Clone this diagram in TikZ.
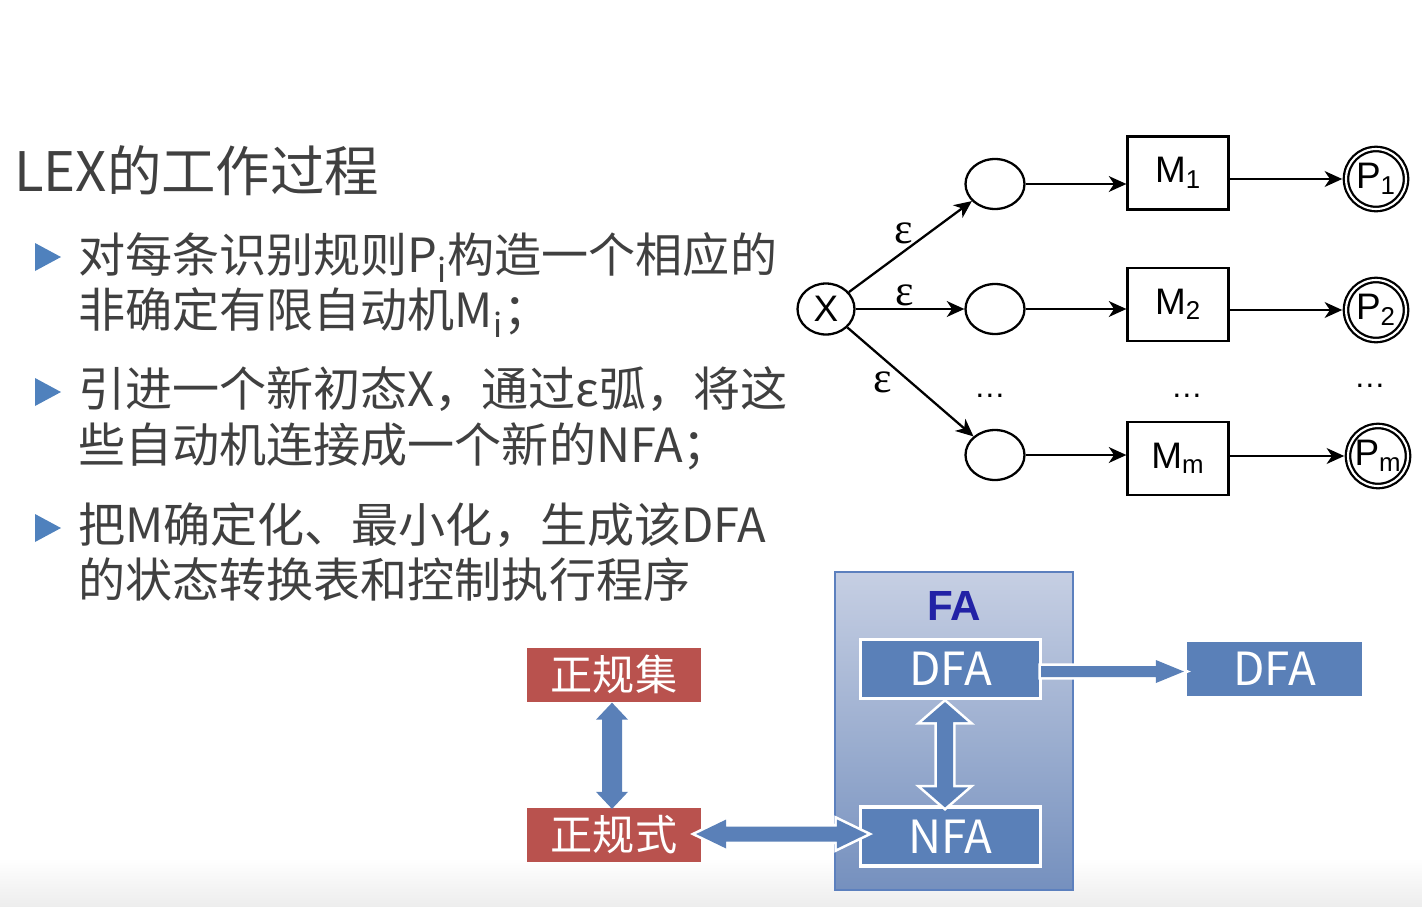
\documentclass[tikz,border=0pt]{standalone}
\usepackage{fontspec}
\setmainfont{Noto Sans CJK SC}
\newfontfamily\arialfont{Liberation Sans}
\newfontfamily\timesfont{Liberation Serif}
\usetikzlibrary{arrows.meta,shapes.geometric,positioning,calc}
\definecolor{textgray}{HTML}{404040}
\definecolor{bulletblue}{HTML}{4F81BD}
\definecolor{boxblue}{HTML}{5A80B8}
\definecolor{boxred}{HTML}{B9524E}
\definecolor{fatop}{HTML}{C6CFE3}
\definecolor{fabot}{HTML}{7590BE}
\definecolor{faborder}{HTML}{5C80BE}
\definecolor{fatext}{HTML}{2222A6}
\tikzset{titletext/.style={anchor=base west, inner sep=0pt, text=textgray, font=\fontsize{31}{36}\selectfont}}
\tikzset{linetext/.style={anchor=base west, inner sep=0pt, text=textgray, font=\fontsize{26.8}{31}\selectfont}}
\tikzset{blockshape/.style={fill=boxblue, preaction={draw=white, line width=3pt, line join=miter}}}

\begin{document}
\begin{tikzpicture}[x=0.02cm,y=-0.02cm,>={Stealth[length=10pt,width=9pt,inset=3pt]},line width=1.3pt]
\tikzstyle{startstate} = [draw, ellipse, minimum width=1.14cm, minimum height=1.02cm, inner sep=0pt, font=\arialfont\fontsize{21}{24}\selectfont]
\tikzstyle{emptystate} = [draw, ellipse, minimum width=1.18cm, minimum height=1cm, inner sep=0pt]
\tikzstyle{finalstate} = [draw, circle, double, double distance=1.2pt, minimum size=1.2cm, inner sep=0pt, font=\arialfont\fontsize{21}{24}\selectfont]
\tikzstyle{machine} = [draw, rectangle, minimum width=2.02cm, minimum height=1.46cm, inner sep=0pt, font=\arialfont\fontsize{21}{24}\selectfont]
\tikzstyle{eps} = [inner sep=1pt, font=\timesfont\fontsize{25}{28}\selectfont]
\tikzstyle{dots} = [inner sep=0pt, font=\arialfont\fontsize{18}{20}\selectfont]
\tikzstyle{innerbox} = [rectangle, fill=boxblue, draw=white, line width=1.8pt, minimum width=3.6cm, minimum height=1.18cm, text=white, font=\fontsize{26}{30}\selectfont]
\tikzstyle{bluebox} = [rectangle, fill=boxblue, minimum width=3.5cm, minimum height=1.08cm, text=white, font=\fontsize{26}{30}\selectfont]
\tikzstyle{redbox} = [rectangle, fill=boxred, minimum width=3.48cm, minimum height=1.08cm, text=white, font=\fontsize{24}{28}\selectfont]

\useasboundingbox (0,0) rectangle (1422,906);
\shade[top color=white, bottom color=black!7] (0,858) rectangle (1422,906);

% title and bullets
\node[titletext] (title) at (13,191) {LEX的工作过程};
\foreach \y in {257,392,528}
  \fill[bulletblue] (35,\y-14) -- (61,\y) -- (35,\y+14) -- cycle;

\node[linetext] (b1a) at (77,272) {对每条识别规则P\textsubscript{i}构造一个相应的};
\node[linetext] (b1b) at (77,327) {非确定有限自动机M\textsubscript{i}；};
\node[linetext] (b2a) at (77,406) {引进一个新初态X，通过ε弧，将这};
\node[linetext] (b2b) at (77,462) {些自动机连接成一个新的NFA；};
\node[linetext] (b3a) at (77,542) {把M确定化、最小化，生成该DFA};
\node[linetext] (b3b) at (77,597) {的状态转换表和控制执行程序};

% automaton
\node[startstate] (X)  at (826,309) {X};
\node[emptystate] (s1) at (995,184) {};
\node[emptystate] (s2) at (995,309) {};
\node[emptystate] (sm) at (995,455) {};
\node[machine] (M1) at (1178,173) {M\textsubscript{1}};
\node[machine] (M2) at (1178,304.5) {M\textsubscript{2}};
\node[machine] (Mm) at (1178,458.5) {M\textsubscript{m}};
\node[finalstate] (P1) at (1376,179) {P\textsubscript{1}};
\node[finalstate] (P2) at (1376,310) {P\textsubscript{2}};
\node[finalstate] (Pm) at (1378,456) {P\textsubscript{m}};

\draw[->] (X) -- node[eps, above left, pos=0.5, xshift=3pt] {ε} (s1);
\draw[->] (X) -- node[eps, above, pos=0.45] {ε} (s2);
\draw[->] (X) -- node[eps, left, pos=0.5, xshift=-9pt] {ε} (sm);

\draw[->] (s1.east) -- (s1.east -| M1.west);
\draw[->] (s2.east) -- (s2.east -| M2.west);
\draw[->] (sm.east) -- (sm.east -| Mm.west);
\draw[->, shorten >=1.5pt] (M1.east |- P1.west) -- (P1.west);
\draw[->, shorten >=1.5pt] (M2.east |- P2.west) -- (P2.west);
\draw[->, shorten >=1.5pt] (Mm.east |- Pm.west) -- (Pm.west);

\node[dots] (d1) at (990,396) {…};
\node[dots] (d2) at (1187,396) {…};
\node[dots] (d3) at (1370,386) {…};

% FA block
\node[rectangle, top color=fatop, bottom color=fabot, draw=faborder, line width=1.1pt,
      minimum width=4.76cm, minimum height=6.36cm] (FA) at (954,731) {};
\node[font=\arialfont\bfseries\fontsize{24}{28}\selectfont, text=fatext] (falabel) at (954,606) {FA};
\node[innerbox] (dfa)  at (950.5,669) {DFA};
\node[innerbox] (nfa)  at (950.5,836.5) {NFA};
\node[bluebox]  (dfa2) at (1274.5,669) {DFA};
\node[redbox]   (zgj)  at (614,674.5) {正规集};
\node[redbox]   (zgs)  at (614,835) {正规式};

% block arrows
\coordinate (jtip) at ($(zgj.south)+(-2,0)$);
\coordinate (stip) at ($(zgs.north)+(-2,2)$);
\fill[boxblue] (jtip) -- ++(16,17) -- ++(-6,0) -- ($(stip)+(10,-17)$) -- ++(6,0) -- (stip)
  -- ++(-16,-17) -- ++(6,0) -- ($(jtip)+(-10,17)$) -- ++(-6,0) -- cycle;

\coordinate (ltip) at ($(zgs.east)+(-6,-1)$);
\coordinate (rtip) at ($(zgs.east -| nfa.west)+(8,-1)$);
\path[blockshape] (ltip) -- ++(30,-14.5) -- ++(0,7) -- ($(rtip)+(-30,-7.5)$) -- ++(0,-7) -- (rtip)
  -- ++(-30,14.5) -- ++(0,-7) -- ($(ltip)+(30,7.5)$) -- ++(0,7) -- cycle;

\coordinate (dtip) at ($(dfa.south)+(-5.5,2)$);
\coordinate (ntip) at ($(nfa.north)+(-5.5,2)$);
\path[blockshape] (dtip) -- ++(23,20) -- ++(-15,0) -- ($(ntip)+(8,-20)$) -- ++(15,0) -- (ntip)
  -- ++(-23,-20) -- ++(15,0) -- ($(dtip)+(-8,20)$) -- ++(-15,0) -- cycle;

\coordinate (dout) at ($(dfa.east)+(-1,2.5)$);
\coordinate (dinn) at ($(dfa.east -| dfa2.west)+(-2,2.5)$);
\path[blockshape] ($(dout)+(0,-5.5)$) -- ($(dinn)+(-28,-5.5)$) -- ++(0,-6) -- (dinn)
  -- ++(-28,11.5) -- ++(0,-6) -- ($(dout)+(0,5.5)$) -- cycle;
\end{tikzpicture}
\end{document}
